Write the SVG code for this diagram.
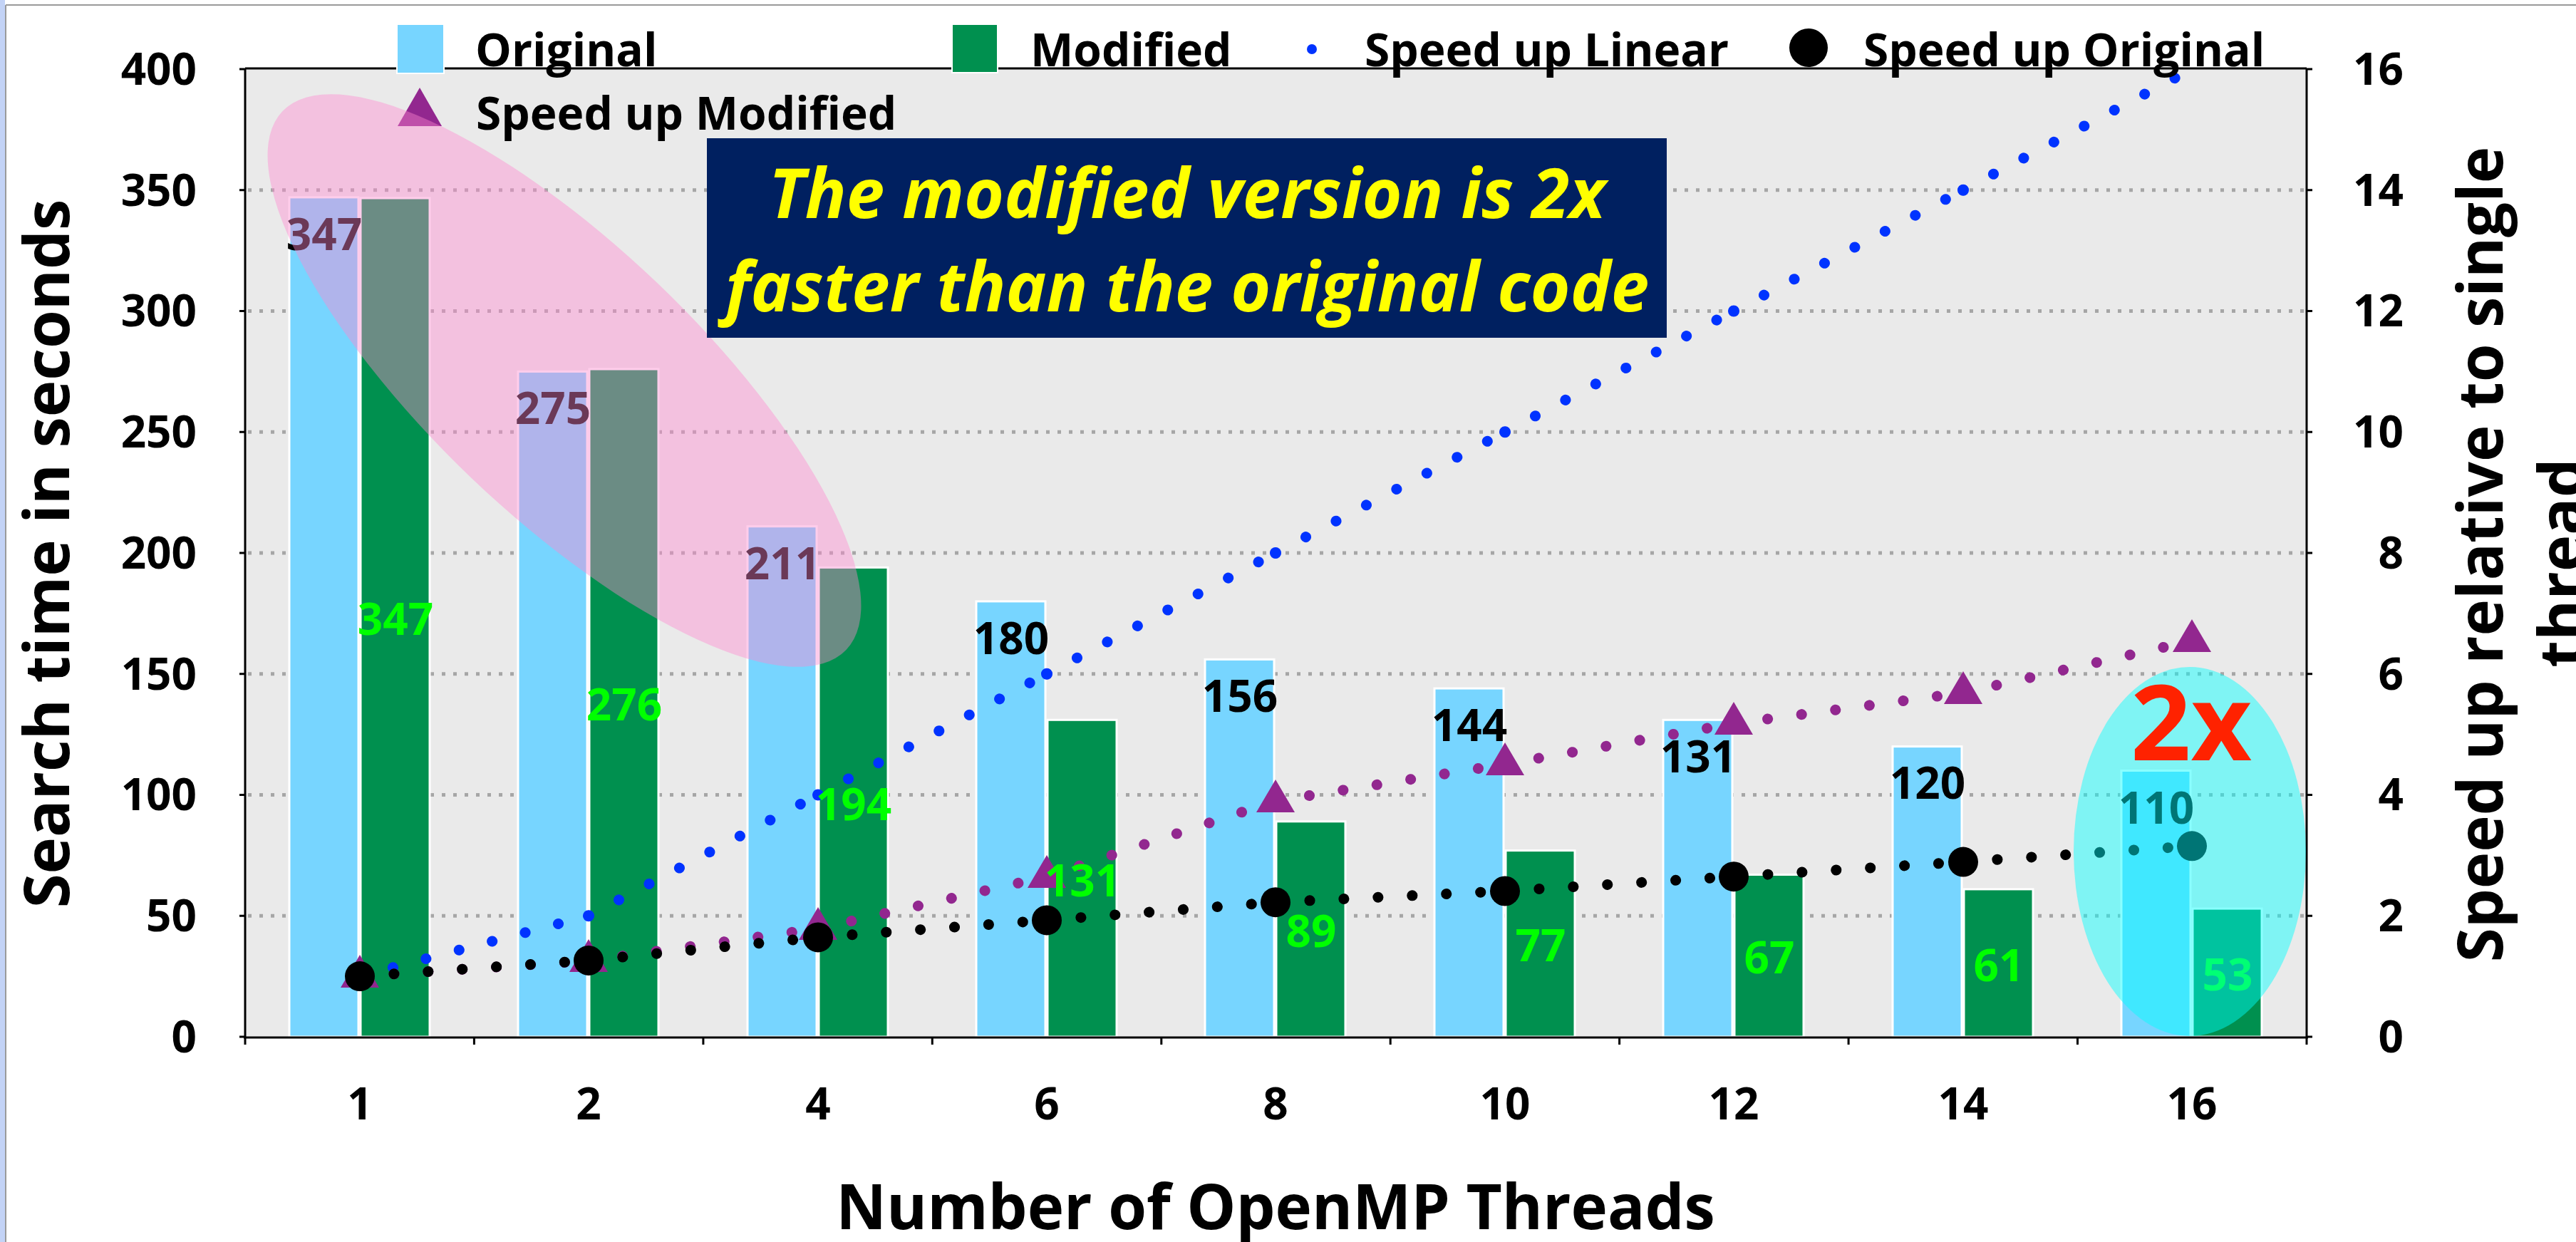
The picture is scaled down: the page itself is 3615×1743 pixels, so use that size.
<svg xmlns="http://www.w3.org/2000/svg" width="3615" height="1743" viewBox="0 0 3615 1743">
<style>
.t{font-family:"Open Sans","Noto Sans","DejaVu Sans",sans-serif;font-weight:700}
.tick{font-size:62px;fill:#000}
.lbl{font-size:62px}
.leg{font-size:64px;fill:#000}
.title{font-size:87px;fill:#000}
.grid{stroke:#A6A6A6;stroke-width:5;stroke-dasharray:5 11;fill:none}
.bo{fill:#77D5FF;stroke:#FFFFFF;stroke-width:3}
.bm{fill:#00904F;stroke:#FFFFFF;stroke-width:3}
.ax{stroke:#000;stroke-width:3;fill:none}
.dl{fill:none;stroke-width:15;stroke-linecap:round;stroke-dasharray:0.1 47.9}
</style>
<rect x="0" y="0" width="3615" height="1743" fill="#FFFFFF"/>
<g id="frame">
<rect x="0" y="0" width="7" height="1743" fill="#C3D3F6"/>
<line x1="8" y1="7" x2="8" y2="1743" stroke="#9A9A9A" stroke-width="2"/>
<line x1="8" y1="7" x2="3615" y2="7" stroke="#9A9A9A" stroke-width="2"/>
</g>
<g id="plot-area">
<rect x="344" y="97" width="2893" height="1358" fill="#EAEAEA"/>
<g id="gridlines">
<line class="grid" x1="348" y1="266.75" x2="3235" y2="266.75"/>
<line class="grid" x1="348" y1="436.5" x2="3235" y2="436.5"/>
<line class="grid" x1="348" y1="606.25" x2="3235" y2="606.25"/>
<line class="grid" x1="348" y1="776" x2="3235" y2="776"/>
<line class="grid" x1="348" y1="945.75" x2="3235" y2="945.75"/>
<line class="grid" x1="348" y1="1115.5" x2="3235" y2="1115.5"/>
<line class="grid" x1="348" y1="1285.25" x2="3235" y2="1285.25"/>
</g>
</g>
<g id="bars-original">
<rect class="bo" x="406" y="276.9" width="97" height="1178.1"/>
<rect class="bo" x="727" y="521.4" width="97" height="933.6"/>
<rect class="bo" x="1049" y="738.7" width="97" height="716.3"/>
<rect class="bo" x="1370" y="843.9" width="97" height="611.1"/>
<rect class="bo" x="1691" y="925.4" width="97" height="529.6"/>
<rect class="bo" x="2013" y="966.1" width="97" height="488.9"/>
<rect class="bo" x="2334" y="1010.3" width="97" height="444.7"/>
<rect class="bo" x="2656" y="1047.6" width="97" height="407.4"/>
<rect class="bo" x="2977" y="1081.5" width="97" height="373.5"/>
</g>
<g id="bars-modified">
<rect class="bm" x="506" y="278" width="97" height="1177"/>
<rect class="bm" x="827" y="518" width="97" height="937"/>
<rect class="bm" x="1149" y="796.4" width="97" height="658.6"/>
<rect class="bm" x="1470" y="1010.3" width="97" height="444.7"/>
<rect class="bm" x="1791" y="1152.8" width="97" height="302.2"/>
<rect class="bm" x="2113" y="1193.6" width="97" height="261.4"/>
<rect class="bm" x="2434" y="1227.5" width="97" height="227.5"/>
<rect class="bm" x="2756" y="1247.9" width="97" height="207.1"/>
<rect class="bm" x="3077" y="1275.1" width="97" height="179.9"/>
</g>
<g id="axes">
<line class="ax" x1="344" y1="96" x2="3237" y2="96" stroke-width="2.5"/>
<line class="ax" x1="344" y1="96" x2="344" y2="1456"/>
<line class="ax" x1="3237" y1="96" x2="3237" y2="1456"/>
<line class="ax" x1="342" y1="1456" x2="3239" y2="1456" stroke-width="4"/>
<path class="ax" d="M336 97H344M336 266.75H344M336 436.5H344M336 606.25H344M336 776H344M336 945.75H344M336 1115.5H344M336 1285.25H344M336 1455H344"/>
<path class="ax" d="M3237 97H3245M3237 266.75H3245M3237 436.5H3245M3237 606.25H3245M3237 776H3245M3237 945.75H3245M3237 1115.5H3245M3237 1285.25H3245M3237 1455H3245"/>
<path class="ax" d="M344 1456V1466M665.4 1456V1466M986.9 1456V1466M1308.3 1456V1466M1629.8 1456V1466M1951.2 1456V1466M2272.6 1456V1466M2594.1 1456V1466M2915.5 1456V1466M3237 1456V1466"/>
</g>
<g id="connectors">
<path id="line-linear" class="dl" stroke="#0033FF" d="M505 1370.1L826 1285.25M826 1285.25L1148 1115.5M1148 1115.5L1469 945.75M1469 945.75L1790 776M1790 776L2112 606.25M2112 606.25L2433 436.5M2433 436.5L2755 266.75M2755 266.75L3076 97"/>
<path id="line-modified" class="dl" stroke="#92278F" d="M505 1370.1L826 1348.3M826 1348.3L1148 1303.2M1148 1303.2L1469 1230.2M1469 1230.2L1790 1124.1M1790 1124.1L2112 1072.5M2112 1072.5L2433 1015.4M2433 1015.4L2755 972.2M2755 972.2L3076 899.3"/>
<path id="line-original" class="dl" stroke="#000000" d="M505 1370.1L826 1347.9M826 1347.9L1148 1315.4M1148 1315.4L1469 1291.4M1469 1291.4L1790 1266.2M1790 1266.2L2112 1250.5M2112 1250.5L2433 1230.2M2433 1230.2L2755 1209.6M2755 1209.6L3076 1187.3"/>
</g>
<g id="markers-linear" fill="#0033FF">
<circle cx="505" cy="1370.1" r="8"/><circle cx="826" cy="1285.25" r="8"/><circle cx="1148" cy="1115.5" r="8"/><circle cx="1469" cy="945.75" r="8"/><circle cx="1790" cy="776" r="8"/><circle cx="2112" cy="606.25" r="8"/><circle cx="2433" cy="436.5" r="8"/><circle cx="2755" cy="266.75" r="8"/>
</g>
<g id="markers-modified" fill="#92278F">
<polygon points="505,1340 478,1386 532,1386"/>
<polygon points="826,1318 799,1364 853,1364"/>
<polygon points="1148,1273 1121,1319 1175,1319"/>
<polygon points="1469,1200 1442,1246 1496,1246"/>
<polygon points="1790,1094 1763,1140 1817,1140"/>
<polygon points="2112,1042 2085,1088 2139,1088"/>
<polygon points="2433,985 2406,1031 2460,1031"/>
<polygon points="2755,942 2728,988 2782,988"/>
<polygon points="3076,869 3049,915 3103,915"/>
</g>
<g id="markers-original" fill="#000000">
<circle cx="505" cy="1370.1" r="21"/><circle cx="826" cy="1347.9" r="21"/><circle cx="1148" cy="1315.4" r="21"/><circle cx="1469" cy="1291.4" r="21"/><circle cx="1790" cy="1266.2" r="21"/><circle cx="2112" cy="1250.5" r="21"/><circle cx="2433" cy="1230.2" r="21"/><circle cx="2755" cy="1209.6" r="21"/><circle cx="3076" cy="1187.3" r="21"/>
</g>
<g id="labels-original" class="t lbl" fill="#000" text-anchor="middle">
<text x="455" y="351">347</text>
<text x="776" y="595">275</text>
<text x="1098" y="813">211</text>
<text x="1419" y="918">180</text>
<text x="1740" y="999">156</text>
<text x="2062" y="1040">144</text>
<text x="2383" y="1084">131</text>
<text x="2705" y="1121">120</text>
<text x="3026" y="1156">110</text>
</g>
<g id="labels-modified" class="t lbl" fill="#00FF00" text-anchor="middle">
<text x="555" y="891">347</text>
<text x="876" y="1011">276</text>
<text x="1198" y="1151">194</text>
<text x="1519" y="1258">131</text>
<text x="1840" y="1329">89</text>
<text x="2162" y="1349">77</text>
<text x="2483" y="1366">67</text>
<text x="2805" y="1377">61</text>
<text x="3126" y="1390">53</text>
</g>
<g id="y-left-ticks" class="t tick" text-anchor="end">
<text x="276" y="119">400</text>
<text x="276" y="289">350</text>
<text x="276" y="458">300</text>
<text x="276" y="628">250</text>
<text x="276" y="798">200</text>
<text x="276" y="968">150</text>
<text x="276" y="1137">100</text>
<text x="276" y="1307">50</text>
<text x="276" y="1477">0</text>
</g>
<g id="y-right-ticks" class="t tick" text-anchor="end">
<text x="3373" y="119">16</text>
<text x="3373" y="289">14</text>
<text x="3373" y="458">12</text>
<text x="3373" y="628">10</text>
<text x="3373" y="798">8</text>
<text x="3373" y="968">6</text>
<text x="3373" y="1137">4</text>
<text x="3373" y="1307">2</text>
<text x="3373" y="1477">0</text>
</g>
<g id="x-ticks" class="t tick" text-anchor="middle">
<text x="505" y="1571">1</text>
<text x="826" y="1571">2</text>
<text x="1148" y="1571">4</text>
<text x="1469" y="1571">6</text>
<text x="1790" y="1571">8</text>
<text x="2112" y="1571">10</text>
<text x="2433" y="1571">12</text>
<text x="2755" y="1571">14</text>
<text x="3076" y="1571">16</text>
</g>
<g id="axis-titles" class="t title" text-anchor="middle">
<text transform="translate(97 777) rotate(-90)">Search time in seconds</text>
<text transform="translate(3512 778) rotate(-90)">Speed up relative to single</text>
<text transform="translate(3626 790) rotate(-90)">thread</text>
<text x="1790" y="1725">Number of OpenMP Threads</text>
</g>
<g id="legend">
<g id="legend-original">
<rect x="557" y="34" width="66" height="69" fill="#77D5FF" stroke="#FFFFFF" stroke-width="2"/>
<text class="t leg" x="667" y="93">Original</text>
</g>
<g id="legend-modified">
<rect x="1336" y="34" width="64" height="68" fill="#00904F" stroke="#FFFFFF" stroke-width="2"/>
<text class="t leg" x="1446" y="93">Modified</text>
</g>
<g id="legend-linear">
<circle cx="1841" cy="69" r="7" fill="#0033FF"/>
<text class="t leg" x="1915" y="93">Speed up Linear</text>
</g>
<g id="legend-speed-original">
<circle cx="2538" cy="67" r="27" fill="#000000"/>
<text class="t leg" x="2615" y="93">Speed up Original</text>
</g>
<g id="legend-speed-modified">
<polygon points="589,123 558,177 620,177" fill="#92278F"/>
<text class="t leg" x="668" y="182">Speed up Modified</text>
</g>
</g>
<g id="highlight-pink">
<ellipse cx="792" cy="534" rx="547" ry="189" transform="rotate(43.7 792 534)" fill="#FF88D0" fill-opacity="0.42"/>
</g>
<g id="callout-box">
<rect x="992" y="194" width="1347" height="280" fill="#002060"/>
<text class="t" x="1666" y="306" font-size="96" font-style="italic" fill="#FFFF00" text-anchor="middle">The modified version is 2x</text>
<text class="t" x="1666" y="437" font-size="96" font-style="italic" fill="#FFFF00" text-anchor="middle">faster than the original code</text>
</g>
<g id="highlight-cyan">
<ellipse cx="3073" cy="1195" rx="163" ry="259" fill="#00FFFF" fill-opacity="0.46"/>
<text class="t" x="3075" y="1067" font-size="148" fill="#FF2200" text-anchor="middle">2x</text>
</g>
</svg>
